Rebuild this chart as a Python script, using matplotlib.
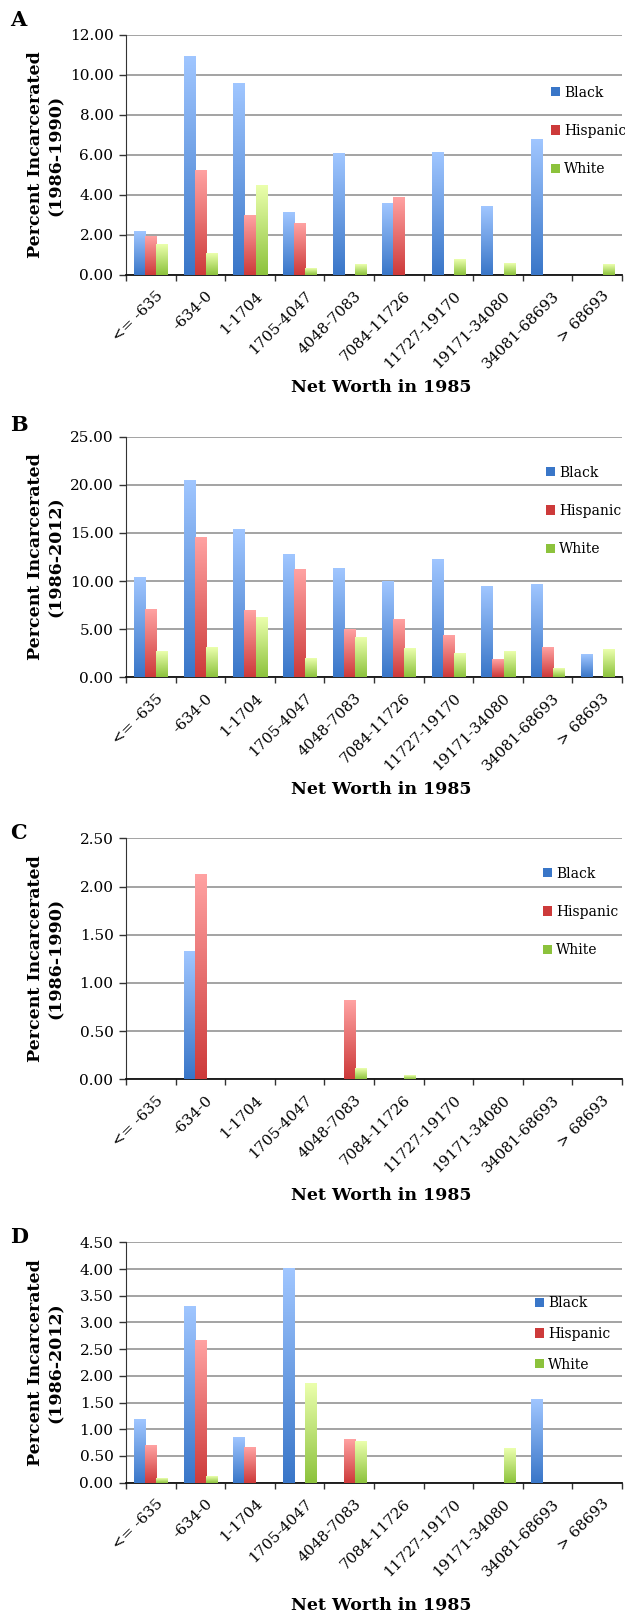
import numpy as np
import matplotlib
matplotlib.use("Agg")
import matplotlib.pyplot as plt
from matplotlib.colors import LinearSegmentedColormap
from matplotlib.patches import Patch
from matplotlib.transforms import ScaledTranslation

plt.rcParams.update({
    "font.family": "DejaVu Serif",
    "font.size": 10.5,
})

categories = ["<= -635", "-634-0", "1-1704", "1705-4047", "4048-7083",
              "7084-11726", "11727-19170", "19171-34080", "34081-68693", "> 68693"]
series = ["Black", "Hispanic", "White"]

# panel A: 1986-1990, all
a_black = [2.20, 10.95, 9.59, 3.12, 6.09, 3.57, 6.11, 3.45, 6.80, 0.0]
a_hisp = [1.91, 5.24, 3.00, 2.59, 0.0, 3.87, 0.0, 0.0, 0.0, 0.0]
a_white = [1.54, 1.10, 4.48, 0.35, 0.55, 0.0, 0.78, 0.60, 0.0, 0.55]
# panel B: 1986-2012, all
b_black = [10.39, 20.43, 15.34, 12.71, 11.32, 9.94, 12.26, 9.45, 9.59, 2.35]
b_hisp = [7.06, 14.51, 6.89, 11.22, 4.95, 5.99, 4.33, 1.87, 3.05, 0.0]
b_white = [2.60, 3.05, 6.23, 1.97, 4.12, 2.98, 2.46, 2.70, 0.93, 2.84]
# panel C: 1986-1990
c_black = [0.0, 1.32, 0.0, 0.0, 0.0, 0.0, 0.0, 0.0, 0.0, 0.0]
c_hisp = [0.0, 2.12, 0.0, 0.0, 0.81, 0.0, 0.0, 0.0, 0.0, 0.0]
c_white = [0.0, 0.0, 0.0, 0.0, 0.11, 0.04, 0.0, 0.0, 0.0, 0.0]
# panel D: 1986-2012
d_black = [1.18, 3.31, 0.86, 4.01, 0.0, 0.0, 0.0, 0.0, 1.57, 0.0]
d_hisp = [0.70, 2.66, 0.67, 0.0, 0.82, 0.0, 0.0, 0.0, 0.0, 0.0]
d_white = [0.08, 0.12, 0.0, 1.86, 0.77, 0.0, 0.0, 0.65, 0.0, 0.0]

# light (top) / dark (bottom) gradient colours, excel style
grad_cols = {
    "Black": ("#a0c6ff", "#3976c8"),
    "Hispanic": ("#ffa2a2", "#cd3a3a"),
    "White": ("#ebffad", "#8cc23c"),
}

W, H = 625, 1616
fig = plt.figure(figsize=(W / 100, H / 100), dpi=100)

# pixel layout: letter, data, period, ax top, ax bottom, ymax, ystep,
# legend x, legend mid y, labelspacing, letter y, xlabel y
panels = [
    ("A", (a_black, a_hisp, a_white), "(1986-1990)", 35, 275, 12, 2, 552, 131, 1.75, 20, 388),
    ("B", (b_black, b_hisp, b_white), "(1986-2012)", 436.7, 677.3, 25, 5, 547, 511, 1.75, 425, 790),
    ("C", (c_black, c_hisp, c_white), "(1986-1990)", 838.3, 1079.3, 2.5, 0.5, 544, 912, 1.75, 833, 1196),
    ("D", (d_black, d_hisp, d_white), "(1986-2012)", 1242.3, 1482.7, 4.5, 0.5, 536, 1334, 1.2, 1237, 1605),
]
left, right = 126, 622
x = np.arange(len(categories))
bw = 1 / 4.5
grad = np.linspace(0, 1, 128).reshape(-1, 1)

for letter, vals, period, top, bot, ymax, ystep, lx, ly, lsp, lety, xly in panels:
    ax = fig.add_axes([left / W, 1 - bot / H, (right - left) / W, (bot - top) / H])
    for k, (name, v) in enumerate(zip(series, vals)):
        light, dark = grad_cols[name]
        cmap = LinearSegmentedColormap.from_list(name, [dark, light])
        bars = ax.bar(x + (k - 1) * bw, v, width=bw, color="none", zorder=3)
        for r in bars:
            h = r.get_height()
            if h <= 0:
                continue
            ax.imshow(grad, cmap=cmap, origin="lower", aspect="auto", zorder=3,
                      extent=(r.get_x(), r.get_x() + r.get_width(), 0, h))
    ax.set_xlim(-0.5, len(categories) - 0.5)
    ax.set_ylim(0, ymax)
    ax.set_yticks(np.arange(0, ymax + ystep / 2, ystep))
    ax.yaxis.set_major_formatter(matplotlib.ticker.FormatStrFormatter("%.2f"))
    ax.yaxis.grid(True, color="#a3a3a3", linewidth=1.4, zorder=0)
    ax.set_axisbelow(True)
    ax.tick_params(axis="y", direction="out", length=5, width=1, color="#333333",
                   labelsize=11, pad=4)
    ax.set_xticks(x)
    ax.set_xticklabels(categories, rotation=45, ha="right", va="top",
                       rotation_mode="anchor", fontsize=11)
    ax.tick_params(axis="x", which="major", length=0, pad=10)
    shift = ScaledTranslation(5 / 100, 0, fig.dpi_scale_trans)
    for lab in ax.get_xticklabels():
        lab.set_transform(lab.get_transform() + shift)
    ax.set_xticks(np.arange(-0.5, len(categories), 1), minor=True)
    ax.tick_params(axis="x", which="minor", direction="out", length=4, width=1, color="#333333")
    for s in ("top", "right"):
        ax.spines[s].set_visible(False)
    ax.spines["left"].set_color("#333333")
    ax.spines["bottom"].set_color("#111111")
    ax.spines["bottom"].set_linewidth(1.3)

    handles = [Patch(facecolor=grad_cols[n][1], edgecolor="none") for n in series]
    ax.legend(handles, series, loc="center left",
              bbox_to_anchor=((lx - 8 - left) / (right - left), (bot - ly) / (bot - top)),
              frameon=False, borderpad=0, handlelength=0.65, handleheight=0.65,
              handletextpad=0.3, labelspacing=lsp, fontsize=10)

    fig.text(10 / W, 1 - lety / H, letter, fontsize=15, weight="bold", va="center")
    fig.text(46 / W, 1 - (top + bot) / 2 / H, "Percent Incarcerated\n" + period,
             rotation=90, ha="center", va="center", multialignment="center",
             fontsize=12.5, weight="bold", linespacing=1.25)
    fig.text(381 / W, 1 - xly / H, "Net Worth in 1985", ha="center", va="center",
             fontsize=12.5, weight="bold")

fig.savefig("out.png", dpi=100)
